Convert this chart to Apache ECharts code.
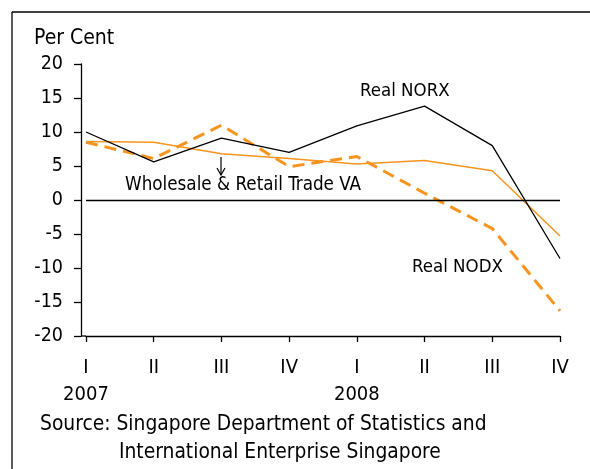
<!DOCTYPE html>
<html>
<head>
<meta charset="utf-8">
<script src="https://cdn.jsdelivr.net/npm/echarts@6/dist/echarts.min.js"></script>
<style>
  html, body { margin: 0; padding: 0; background: #fff; }
  #chart { width: 590px; height: 469px; }
</style>
</head>
<body>
<div id="chart"></div>
<script>
// quarters, 2007 Q1 .. 2008 Q4
var quarters = ["I\n2007", "II", "III", "IV", "I\n2008", "II", "III", "IV"];
var yTicks = { min: -20, max: 20, step: 5 };

// per cent, year-on-year
var realNORX = [10.0, 5.6, 9.1, 7.0, 10.9, 13.8, 8.0, -8.6];
var realNODX = [8.5, 6.1, 11.0, 4.9, 6.4, 1.0, -4.2, -16.3];
var wholesaleRetailVA = [8.6, 8.5, 6.8, 6.1, 5.3, 5.8, 4.3, -5.3];

var FONT = '"DejaVu Sans Condensed", "DejaVu Sans", sans-serif';
var ORANGE = "#F7941D";

var chart = echarts.init(document.getElementById("chart"));

chart.setOption({
  animation: false,
  backgroundColor: "#fff",
  textStyle: { fontFamily: FONT, color: "#000" },
  grid: { left: 86, right: 30, top: 64, bottom: 133 },
  xAxis: {
    type: "category",
    data: quarters,
    boundaryGap: false,
    axisLine: { onZero: false, lineStyle: { color: "#000", width: 1.3 } },
    axisTick: { show: true, inside: false, length: 6, alignWithLabel: true,
      lineStyle: { color: "#000", width: 1.3 } },
    axisLabel: { color: "#000", fontFamily: FONT, fontSize: 20, margin: 18,
      lineHeight: 27, interval: 0 },
    splitLine: { show: false }
  },
  yAxis: {
    type: "value",
    min: yTicks.min,
    max: yTicks.max,
    interval: yTicks.step,
    offset: 5,
    axisLine: { show: true, lineStyle: { color: "#000", width: 1.3 } },
    axisTick: { show: true, inside: false, length: 7,
      lineStyle: { color: "#000", width: 1.3 } },
    axisLabel: { color: "#000", fontFamily: FONT, fontSize: 19.5, margin: 18 },
    splitLine: { show: false }
  },
  series: [
    {
      name: "Real NODX",
      type: "line",
      data: realNODX,
      symbol: "none",
      z: 3,
      lineStyle: { color: ORANGE, width: 3, type: [12, 7] }
    },
    {
      name: "Wholesale & Retail Trade VA",
      type: "line",
      data: wholesaleRetailVA,
      symbol: "none",
      z: 4,
      lineStyle: { color: ORANGE, width: 1.5 }
    },
    {
      name: "Real NORX",
      type: "line",
      data: realNORX,
      symbol: "none",
      z: 5,
      lineStyle: { color: "#000", width: 1.3 },
      markLine: {
        silent: true,
        symbol: "none",
        label: { show: false },
        lineStyle: { color: "#000", width: 1.3, type: "solid" },
        data: [{ yAxis: 0 }]
      }
    }
  ],
  graphic: [
    // frame (cut at right and bottom)
    { type: "line", shape: { x1: 12, y1: 12, x2: 590, y2: 12 },
      style: { stroke: "#000", lineWidth: 1.3 } },
    { type: "line", shape: { x1: 12, y1: 12, x2: 12, y2: 469 },
      style: { stroke: "#000", lineWidth: 1.3 } },
    // join y axis and x axis
    { type: "line", shape: { x1: 81, y1: 336, x2: 86, y2: 336 },
      style: { stroke: "#000", lineWidth: 1.3 } },
    { type: "text", left: 34, top: 28,
      style: { text: "Per Cent", font: "21px " + FONT, fill: "#000" } },
    { type: "text", left: 360, top: 82,
      style: { text: "Real NORX", font: "18.5px " + FONT, fill: "#000" } },
    { type: "text", left: 412, top: 258,
      style: { text: "Real NODX", font: "18.5px " + FONT, fill: "#000" } },
    { type: "text", left: 125, top: 176,
      style: { text: "Wholesale & Retail Trade VA", font: "18.7px " + FONT, fill: "#000" } },
    // arrow to the VA line
    { type: "line", shape: { x1: 221, y1: 157, x2: 221, y2: 175 },
      style: { stroke: "#000", lineWidth: 1.2 } },
    { type: "polyline", shape: { points: [[217, 168], [221, 175], [225, 168]] },
      style: { stroke: "#000", lineWidth: 1.2, fill: null } },
    { type: "text", left: 40, top: 414,
      style: { text: "Source: Singapore Department of Statistics and", font: "20.8px " + FONT, fill: "#000" } },
    { type: "text", left: 119, top: 442,
      style: { text: "International Enterprise Singapore", font: "20.8px " + FONT, fill: "#000" } }
  ]
});
</script>
</body>
</html>
